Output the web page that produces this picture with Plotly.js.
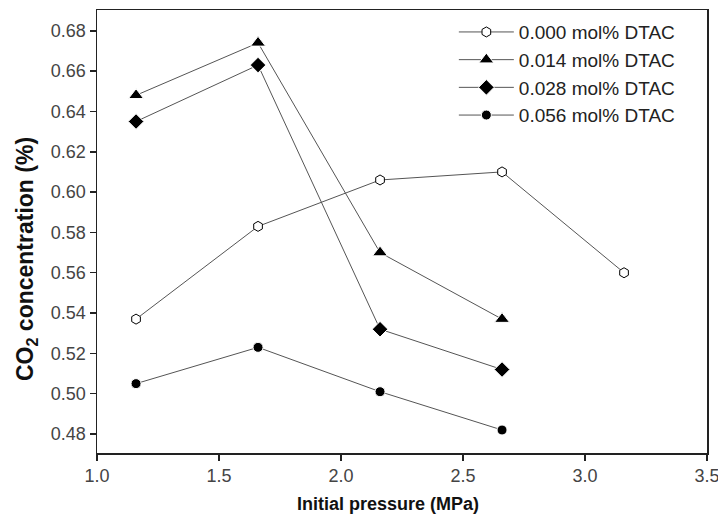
<!DOCTYPE html>
<html>
<head>
<meta charset="utf-8">
<script src="https://cdn.plot.ly/plotly-3.0.1.min.js"></script>
<style>html,body{margin:0;padding:0;background:#fff;}#chart{width:718px;height:527px;}</style>
</head>
<body>
<div id="chart"></div>
<script>
const pressure = [1.16, 1.66, 2.16, 2.66, 3.16];
const seriesNames = ["0.000 mol% DTAC", "0.014 mol% DTAC", "0.028 mol% DTAC", "0.056 mol% DTAC"];
const dtac000 = [0.537, 0.583, 0.606, 0.610, 0.560];
const dtac014 = [0.648, 0.674, 0.570, 0.537];
const dtac028 = [0.635, 0.663, 0.532, 0.512];
const dtac056 = [0.505, 0.523, 0.501, 0.482];
const xTicks = [1.0, 1.5, 2.0, 2.5, 3.0, 3.5];
const yTicks = [0.48, 0.50, 0.52, 0.54, 0.56, 0.58, 0.60, 0.62, 0.64, 0.66, 0.68];
const xTitle = "<b>Initial pressure (MPa)</b>";
const yTitle = "<b>CO<sub>2</sub> concentration (%)</b>";

const seriesValues = [dtac000, dtac014, dtac028, dtac056];
const symbols = ["hexagon", "triangle-up", "diamond", "circle"];
const sizes = [10, 13, 12, 10];
const fills = ["#ffffff", "#000000", "#000000", "#000000"];
const outlines = ["#000000", "#ffffff", "#ffffff", "#ffffff"];
const outlineWidths = [1, 1, 1, 1];

const traces = seriesValues.map((vals, i) => ({
  x: pressure.slice(0, vals.length),
  y: vals,
  name: seriesNames[i],
  type: "scatter",
  mode: "lines+markers",
  line: {color: "#555555", width: 1},
  marker: {symbol: symbols[i], size: sizes[i], color: fills[i],
           line: {color: outlines[i], width: outlineWidths[i]}}
}));

const layout = {
  width: 718, height: 527,
  margin: {l: 97, r: 11, t: 10, b: 74},
  paper_bgcolor: "#ffffff", plot_bgcolor: "#ffffff",
  font: {family: "Liberation Sans, Arial, sans-serif", color: "#333333"},
  showlegend: true,
  legend: {x: 0.585, y: 0.993, xanchor: "left", yanchor: "top",
           bgcolor: "rgba(0,0,0,0)", borderwidth: 0, itemwidth: 55,
           font: {size: 19, color: "#222222"}},
  xaxis: {
    range: [1.0, 3.5], tickvals: xTicks, ticktext: xTicks.map(v => v.toFixed(1)),
    showgrid: false, zeroline: false, showline: true, linecolor: "#222222", linewidth: 1.5,
    mirror: true, ticks: "outside", ticklen: 6, tickwidth: 1.5, tickcolor: "#222222",
    ticklabeloverflow: "allow",
    tickfont: {size: 18, color: "#444444"}
  },
  yaxis: {
    range: [0.4706, 0.6903], tickvals: yTicks, ticktext: yTicks.map(v => v.toFixed(2)),
    showgrid: false, zeroline: false, showline: true, linecolor: "#222222", linewidth: 1.5,
    mirror: true, ticks: "outside", ticklen: 6, tickwidth: 1.5, tickcolor: "#222222",
    ticklabeloverflow: "allow",
    tickfont: {size: 18, color: "#444444"}
  },
  annotations: [
    {text: xTitle, xref: "paper", yref: "paper", x: (388 - 97) / 610, y: -(504 - 453) / 443,
     xanchor: "center", yanchor: "middle", showarrow: false,
     font: {family: "Liberation Sans, Arial, sans-serif", size: 18, color: "#111111"}},
    {text: yTitle, xref: "paper", yref: "paper", x: -(97 - 26) / 610, y: 1 - (259 - 10) / 443,
     xanchor: "center", yanchor: "middle", showarrow: false, textangle: -90,
     font: {family: "Liberation Sans, Arial, sans-serif", size: 23, color: "#111111"}}
  ]
};

Plotly.newPlot("chart", traces, layout, {displayModeBar: false, staticPlot: true});
</script>
</body>
</html>
